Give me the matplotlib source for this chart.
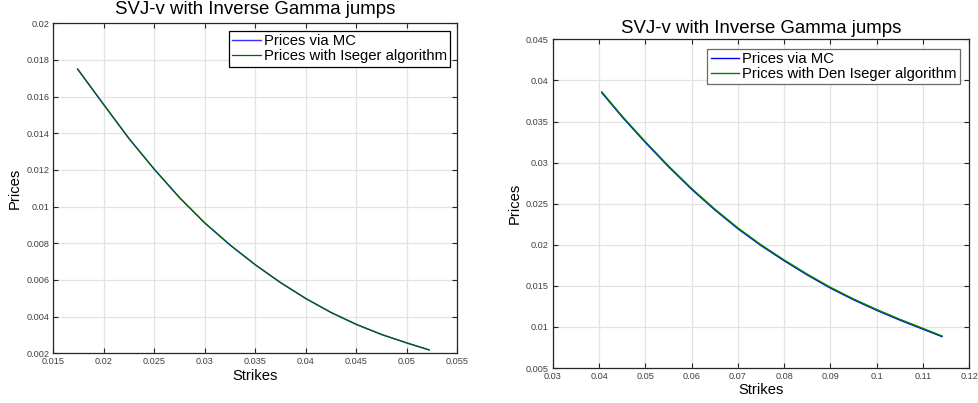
import matplotlib
matplotlib.use("Agg")
import matplotlib.pyplot as plt

plt.rcParams['font.family'] = ['Liberation Sans', 'DejaVu Sans']

title = "SVJ-v with Inverse Gamma jumps"

# left panel: strikes / prices
left_strikes = [0.0174, 0.0200, 0.0225, 0.0250, 0.0275, 0.0300, 0.0325, 0.0350,
                0.0375, 0.0400, 0.0425, 0.0450, 0.0475, 0.0500, 0.0522]
left_mc = [0.01750, 0.01555, 0.01370, 0.01203, 0.01048, 0.00910, 0.00790, 0.00682,
           0.00585, 0.00498, 0.00422, 0.00357, 0.00302, 0.00256, 0.00218]
left_iseger = [0.01751, 0.01556, 0.01371, 0.01204, 0.01049, 0.00911, 0.00791, 0.00683,
               0.00586, 0.00499, 0.00423, 0.00358, 0.00303, 0.00257, 0.00219]
left_xticks = [0.015, 0.02, 0.025, 0.03, 0.035, 0.04, 0.045, 0.05, 0.055]
left_xlabels = ["0.015", "0.02", "0.025", "0.03", "0.035", "0.04", "0.045", "0.05", "0.055"]
left_yticks = [0.002, 0.004, 0.006, 0.008, 0.01, 0.012, 0.014, 0.016, 0.018, 0.02]
left_ylabels = ["0.002", "0.004", "0.006", "0.008", "0.01", "0.012", "0.014", "0.016", "0.018", "0.02"]

# right panel
right_strikes = [0.0406, 0.045, 0.050, 0.055, 0.060, 0.065, 0.070, 0.075, 0.080,
                 0.085, 0.090, 0.095, 0.100, 0.105, 0.110, 0.1141]
right_mc = [0.03850, 0.03555, 0.03245, 0.02950, 0.02675, 0.02425, 0.02195, 0.01990,
            0.01805, 0.01632, 0.01472, 0.01330, 0.01202, 0.01083, 0.00972, 0.00882]
right_iseger = [0.03860, 0.03565, 0.03255, 0.02960, 0.02685, 0.02435, 0.02205, 0.02000,
                0.01815, 0.01642, 0.01482, 0.01340, 0.01212, 0.01093, 0.00982, 0.00890]
right_xticks = [0.03, 0.04, 0.05, 0.06, 0.07, 0.08, 0.09, 0.1, 0.11, 0.12]
right_xlabels = ["0.03", "0.04", "0.05", "0.06", "0.07", "0.08", "0.09", "0.1", "0.11", "0.12"]
right_yticks = [0.005, 0.01, 0.015, 0.02, 0.025, 0.03, 0.035, 0.04, 0.045]
right_ylabels = ["0.005", "0.01", "0.015", "0.02", "0.025", "0.03", "0.035", "0.04", "0.045"]


def style_axes(ax, xticks, xlabels, yticks, ylabels):
    ax.set_xlim(xticks[0], xticks[-1])
    ax.set_ylim(yticks[0], yticks[-1])
    ax.set_xticks(xticks)
    ax.set_xticklabels(xlabels)
    ax.set_yticks(yticks)
    ax.set_yticklabels(ylabels)
    ax.grid(True, color='#e3e3e3', linewidth=0.9)
    ax.set_axisbelow(True)
    ax.tick_params(direction='in', length=3.5, width=0.8, top=True, right=True,
                   labelsize=6.6, labelcolor='#404040', colors='#262626', pad=3)
    for s in ax.spines.values():
        s.set_color('#262626')
        s.set_linewidth(0.9)


fig = plt.figure(figsize=(9.79, 4.03), dpi=100)

ax1 = fig.add_axes([0.0545, 0.1233, 0.4127, 0.8189])
ax1.plot(left_strikes, left_mc, color='#3030ff', lw=1.0, label='Prices via MC')
ax1.plot(left_strikes, left_iseger, color='#006400', lw=0.9, label='Prices with Iseger algorithm')
style_axes(ax1, left_xticks, left_xlabels, left_yticks, left_ylabels)
ax1.set_title(title, fontsize=13.4, pad=6.7)
ax1.set_xlabel('Strikes', fontsize=10.6, labelpad=1.5)
ax1.set_ylabel('Prices', fontsize=10.6, labelpad=3.5)
leg1 = ax1.legend(loc='upper right', fontsize=10.7, fancybox=False, framealpha=1,
                  handlelength=1.9, handletextpad=0.2, labelspacing=0.1,
                  borderpad=0.22, borderaxespad=0.5)
leg1.get_frame().set_edgecolor('black')
leg1.get_frame().set_linewidth(0.9)

ax2 = fig.add_axes([0.5646, 0.0868, 0.4255, 0.8156])
ax2.plot(right_strikes, right_mc, color='#0000ff', lw=1.0, label='Prices via MC')
ax2.plot(right_strikes, right_iseger, color='#008000', lw=1.0, label='Prices with Den Iseger algorithm')
style_axes(ax2, right_xticks, right_xlabels, right_yticks, right_ylabels)
ax2.set_title(title, fontsize=13.4, pad=4.3)
ax2.set_xlabel('Strikes', fontsize=10.6, labelpad=1.5)
ax2.set_ylabel('Prices', fontsize=10.6, labelpad=3.0)
leg2 = ax2.legend(loc='upper right', fontsize=10.7, fancybox=False, framealpha=1,
                  handlelength=1.9, handletextpad=0.2, labelspacing=0.05,
                  borderpad=0.22, borderaxespad=0.65)
leg2.get_frame().set_edgecolor('#6a6a6a')
leg2.get_frame().set_linewidth(0.9)

fig.savefig('out.png', dpi=100)
